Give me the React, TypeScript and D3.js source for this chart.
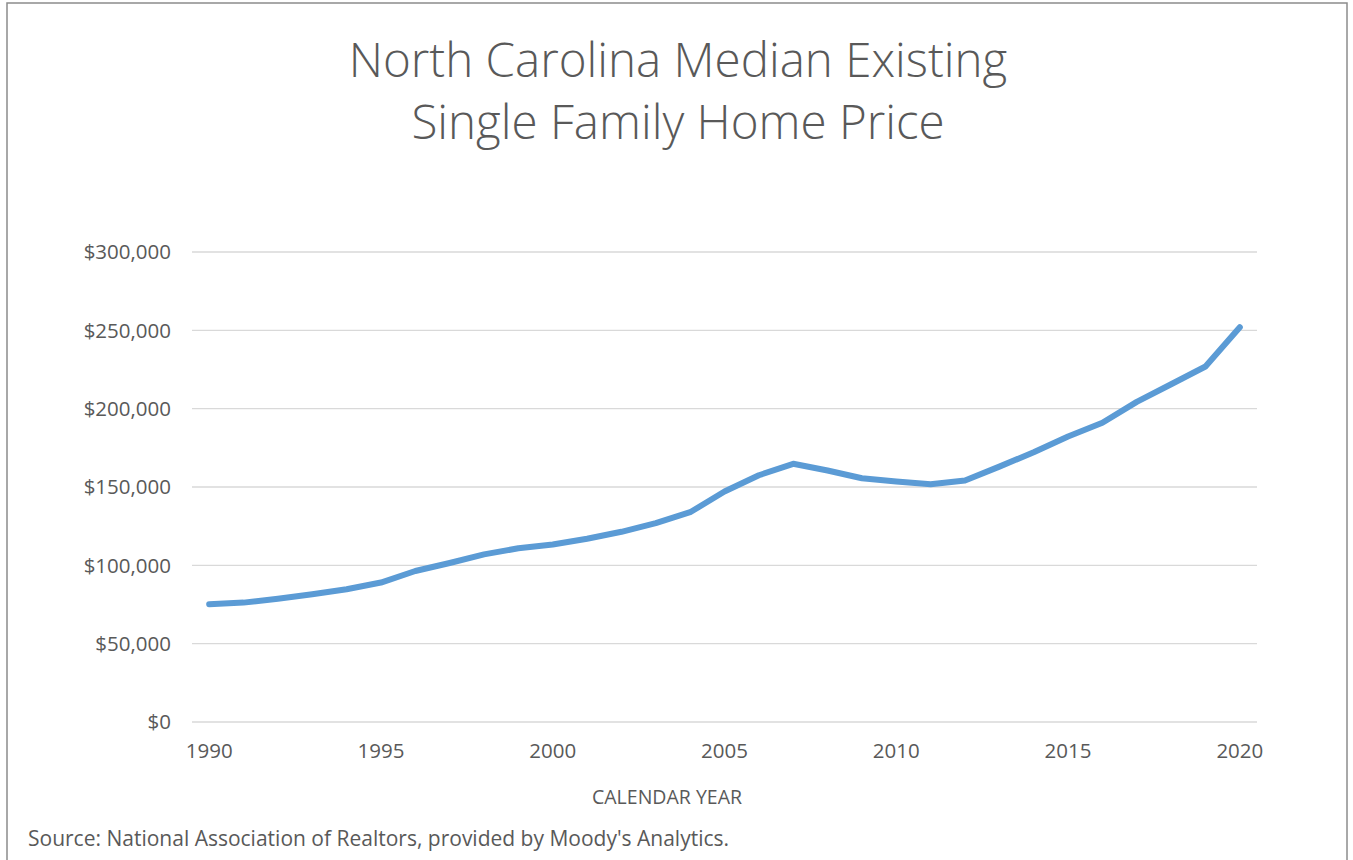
import React from 'react';
import * as d3 from 'd3';

const years = d3.range(1990, 2021);
const prices = [
  75200, 76200, 78700, 81500, 84700, 89000, 96400, 101500, 107000, 110900,
  113300, 117000, 121400, 126900, 133900, 147100, 157500, 164800, 160500, 155600,
  153500, 151700, 154100, 163000, 172200, 182200, 191000, 204300, 215600, 226900,
  252000,
];
const yTicks = [0, 50000, 100000, 150000, 200000, 250000, 300000];
const xTickYears = [1990, 1995, 2000, 2005, 2010, 2015, 2020];

const W = 1353;
const H = 860;
const FONT = '"Open Sans", "Noto Sans", sans-serif';
const TEXT = '#595959';

const App = () => {
  // plot area
  const left = 192;
  const right = 1257;
  const top = 252;
  const bottom = 722;

  const x = d3.scalePoint<number>().domain(years).range([left, right]).padding(0.5);
  const y = d3.scaleLinear().domain([0, 300000]).range([bottom, top]);

  const line = d3
    .line<number>()
    .x((d, i) => x(years[i]) as number)
    .y(d => y(d));

  const money = (v: number) => '$' + d3.format(',')(v);

  return (
    <svg
      width={W}
      height={H}
      style={{ position: 'absolute', left: 0, top: 0, background: '#fff' }}
      fontFamily={FONT}
    >
      <rect x={7} y={3} width={1340} height={H + 20} fill="#fff" stroke="#8c8c8c" strokeWidth={1.5} />

      {/* Title */}
      <g fill={TEXT} fontWeight={300} fontSize={47.5} textAnchor="middle">
        <text x={678} y={77}>North Carolina Median Existing</text>
        <text x={678} y={139}>Single Family Home Price</text>
      </g>

      {/* Gridlines */}
      {yTicks.map(t => (
        <line key={t} x1={left} x2={right} y1={y(t)} y2={y(t)} stroke="#d9d9d9" strokeWidth={1.3} />
      ))}

      {/* Y axis labels */}
      <g fill={TEXT} fontSize={20.5} textAnchor="end">
        {yTicks.map(t => (
          <text key={t} x={171} y={y(t)} dy="0.35em">{money(t)}</text>
        ))}
      </g>

      {/* X axis labels */}
      <g fill={TEXT} fontSize={20.5} textAnchor="middle">
        {xTickYears.map(yr => (
          <text key={yr} x={x(yr)} y={758}>{yr}</text>
        ))}
      </g>

      <text x={667} y={804} fill={TEXT} fontSize={19.5} textAnchor="middle">CALENDAR YEAR</text>

      {/* Series */}
      <path
        d={line(prices) ?? ''}
        fill="none"
        stroke="#5b9bd5"
        strokeWidth={6}
        strokeLinecap="round"
        strokeLinejoin="round"
      />

      <text x={28} y={846} fill={TEXT} fontSize={21}>
        Source: National Association of Realtors, provided by Moody's Analytics.
      </text>
    </svg>
  );
};

export default App;
